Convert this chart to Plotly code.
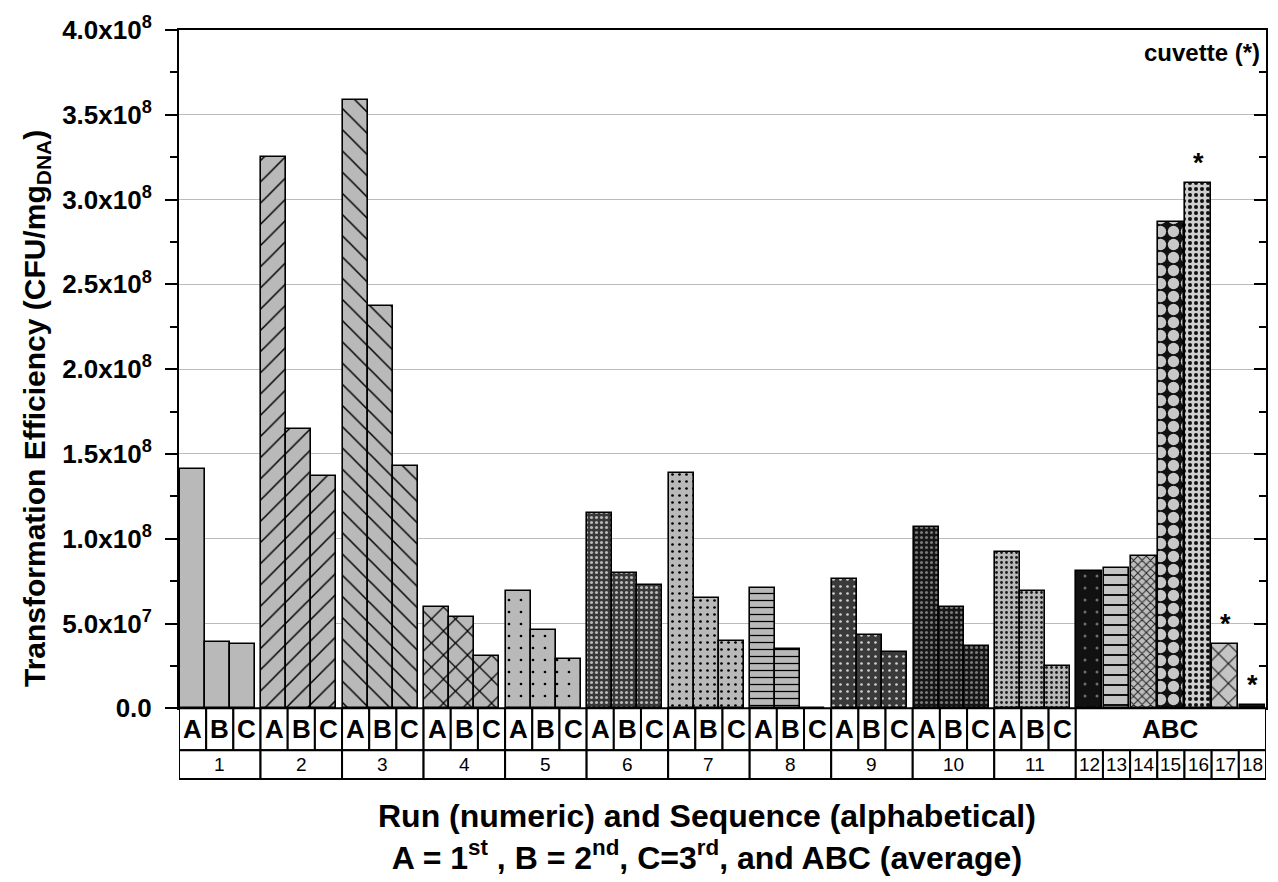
import plotly.graph_objects as go

# Transformation efficiency per run (CFU per mg DNA)
runs = ["1", "2", "3", "4", "5", "6", "7", "8", "9", "10", "11"]
seq_a = [1.41e8, 3.25e8, 3.59e8, 0.60e8, 0.69e8, 1.15e8, 1.39e8, 0.71e8, 0.76e8, 1.07e8, 0.92e8]
seq_b = [0.39e8, 1.65e8, 2.37e8, 0.54e8, 0.46e8, 0.80e8, 0.65e8, 0.35e8, 0.43e8, 0.60e8, 0.69e8]
seq_c = [0.38e8, 1.37e8, 1.43e8, 0.31e8, 0.29e8, 0.73e8, 0.40e8, 0.0, 0.33e8, 0.37e8, 0.25e8]
seq_letters = ["A", "B", "C"]

avg_runs = ["12", "13", "14", "15", "16", "17", "18"]
avg_vals = [0.81e8, 0.83e8, 0.90e8, 2.87e8, 3.10e8, 0.38e8, 0.02e8]
cuvette = [False, False, False, False, True, True, True]

y_tickvals = [0, 0.5e8, 1.0e8, 1.5e8, 2.0e8, 2.5e8, 3.0e8, 3.5e8, 4.0e8]
y_ticktext = ["0.0", "5.0x10<sup>7</sup>", "1.0x10<sup>8</sup>", "1.5x10<sup>8</sup>",
              "2.0x10<sup>8</sup>", "2.5x10<sup>8</sup>", "3.0x10<sup>8</sup>",
              "3.5x10<sup>8</sup>", "4.0x10<sup>8</sup>"]
y_minor = [0.25e8, 0.75e8, 1.25e8, 1.75e8, 2.25e8, 2.75e8, 3.25e8, 3.75e8]

# fill styles: (shape, background, foreground, size, solidity)
GRAY = "#b9b9b9"
run_styles = [
    ("", GRAY, "black", 8, 0.2),
    ("/", GRAY, "black", 15, 0.1),
    ("\\", GRAY, "black", 15, 0.1),
    ("x", GRAY, "black", 17, 0.14),
    (".", GRAY, "black", 12, 0.04),
    (".", "#383838", "#b8b8b8", 5, 0.3),
    (".", GRAY, "black", 7, 0.12),
    ("-", GRAY, "black", 7, 0.18),
    (".", "#3a3a3a", "#d0d0d0", 7, 0.12),
    (".", "#161616", "#777777", 5, 0.3),
    (".", GRAY, "#1a1a1a", 5, 0.25),
]
avg_styles = [
    (".", "#111111", "#6e6e6e", 12, 0.05),
    ("-", "#c4c4c4", "#111111", 10, 0.2),
    ("x", "#bdbdbd", "#222222", 6, 0.3),
    (".", "#111111", "#c8c8c8", 13, 0.6),
    (".", "#cfcfcf", "#111111", 6, 0.35),
    ("x", "#c4c4c4", "#111111", 14, 0.15),
    ("", "#111111", "#111111", 8, 0.2),
]

FONT = "Liberation Sans, Arial, sans-serif"
BAR_W = 0.92
fig = go.Figure()

# Runs 1-11: three sequential transformations each
for g, run in enumerate(runs):
    shape, bg, fg, size, sol = run_styles[g]
    xs = [3 * g + 0.49 + BAR_W * s for s in range(3)]
    fig.add_trace(go.Bar(
        x=xs, y=[seq_a[g], seq_b[g], seq_c[g]], width=BAR_W,
        marker=dict(color=bg, line=dict(color="black", width=1.6),
                    pattern=dict(shape=shape, bgcolor=bg, fgcolor=fg, size=size,
                                 solidity=sol, fillmode="replace")),
        name="Run " + run, showlegend=False, hoverinfo="skip"))

# Runs 12-18: averages
n_seq = 3 * len(runs)
for k, run in enumerate(avg_runs):
    shape, bg, fg, size, sol = avg_styles[k]
    fig.add_trace(go.Bar(
        x=[n_seq + k + 0.5], y=[avg_vals[k]], width=0.95,
        marker=dict(color=bg, line=dict(color="black", width=1.6),
                    pattern=dict(shape=shape, bgcolor=bg, fgcolor=fg, size=size,
                                 solidity=sol, fillmode="replace")),
        name="Run " + run, showlegend=False, hoverinfo="skip"))

# invisible trace anchoring the right-hand axis
fig.add_trace(go.Scatter(x=[0], y=[0], yaxis="y2", mode="markers",
                         marker=dict(opacity=0), showlegend=False, hoverinfo="skip"))

n_cells = n_seq + len(avg_runs)
PLOT_BOTTOM = 0.0943
ROW_SPLIT = 0.0385

shapes = []
annotations = []


def cell(x0, x1, y0, y1):
    shapes.append(dict(type="rect", xref="x", yref="paper", x0=x0, x1=x1, y0=y0, y1=y1,
                       line=dict(color="black", width=2), fillcolor="white", layer="above"))


def label(x, y, text, size, xref="x", yref="paper", **kw):
    opts = dict(x=x, y=y, xref=xref, yref=yref, text=text, showarrow=False,
                xanchor="center", yanchor="middle",
                font=dict(family=FONT, size=size, color="black"))
    opts.update(kw)
    annotations.append(opts)


# sequence letter row and run number row
letter_y = (ROW_SPLIT + PLOT_BOTTOM) / 2
for g, run in enumerate(runs):
    for s, letter in enumerate(seq_letters):
        i = 3 * g + s
        cell(i, i + 1, ROW_SPLIT, PLOT_BOTTOM)
        label(i + 0.5, letter_y, "<b>" + letter + "</b>", 26)
    cell(3 * g, 3 * g + 3, 0, ROW_SPLIT)
    label(3 * g + 1.5, ROW_SPLIT / 2, run, 19)

cell(n_seq, n_cells, ROW_SPLIT, PLOT_BOTTOM)
label((n_seq + n_cells) / 2, letter_y, "<b>ABC</b>", 26)
for k, run in enumerate(avg_runs):
    cell(n_seq + k, n_seq + k + 1, 0, ROW_SPLIT)
    label(n_seq + k + 0.5, ROW_SPLIT / 2, run, 19)

# cuvette markers
for k, flag in enumerate(cuvette):
    if flag:
        label(n_seq + k + 0.5, avg_vals[k], "<b>*</b>", 27, yref="y",
              yanchor="bottom", yshift=3)

label(0.9963, 0.97, "<b>cuvette (*)</b>", 24, xref="paper", xanchor="right")

label(-0.1306, 0.494, "<b>Transformation Efficiency (CFU/mg<sub>DNA</sub>)</b>", 30,
      xref="paper", textangle=-90)

label(0.486, -0.078,
      "<b>Run (numeric) and Sequence (alphabetical)<br>"
      "A = 1<sup>st</sup> , B = 2<sup>nd</sup>, C=3<sup>rd</sup>, and ABC (average)</b>",
      32, xref="paper")

axis_common = dict(range=[0, 4.0e8], tickmode="array", tickvals=y_tickvals,
                   linecolor="black", linewidth=2, showline=True, zeroline=False,
                   ticklen=12, tickwidth=2, tickcolor="black")

fig.update_layout(
    width=1278, height=882,
    margin=dict(l=179, r=12, t=26, b=103),
    paper_bgcolor="white", plot_bgcolor="white",
    bargap=0, barmode="overlay",
    xaxis=dict(range=[0, n_cells], showticklabels=False, ticks="", showgrid=False,
               zeroline=False, showline=True, mirror=True, linecolor="black", linewidth=2,
               fixedrange=True),
    yaxis=dict(domain=[PLOT_BOTTOM, 1], ticktext=y_ticktext, ticks="outside",
               showgrid=True, gridcolor="#bcbcbc", gridwidth=1, ticklabelstandoff=8,
               tickfont=dict(family=FONT, size=26, color="black", weight="bold"),
               minor=dict(tickmode="array", tickvals=y_minor, ticks="outside", ticklen=7,
                          tickwidth=2, tickcolor="black", showgrid=False),
               **axis_common),
    yaxis2=dict(domain=[PLOT_BOTTOM, 1], overlaying="y", side="right", ticks="inside",
                showticklabels=False, showgrid=False,
                minor=dict(tickmode="array", tickvals=y_minor, ticks="inside", ticklen=7,
                           tickwidth=2, tickcolor="black", showgrid=False),
                **axis_common),
    shapes=shapes,
    annotations=annotations,
)

fig.write_html("out.html")
